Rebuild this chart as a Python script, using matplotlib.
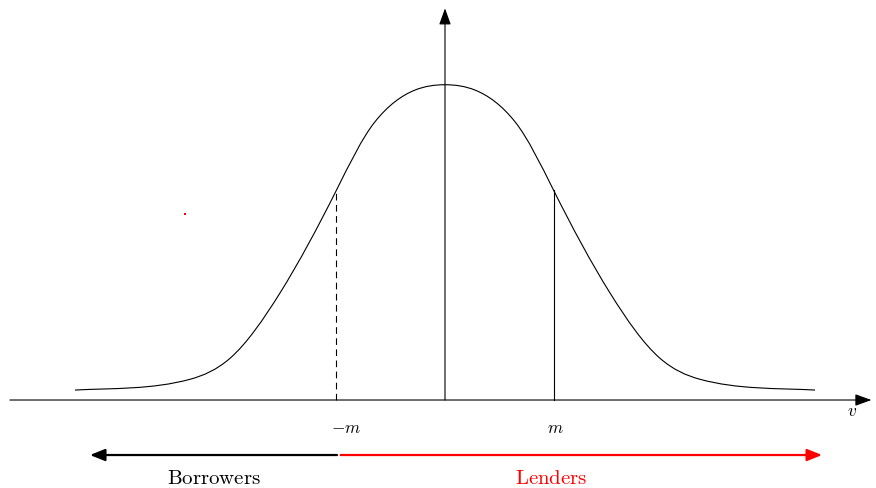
import numpy as np
import matplotlib
matplotlib.use("Agg")
import matplotlib.pyplot as plt
from matplotlib.path import Path
from matplotlib.patches import PathPatch

plt.rcParams['mathtext.fontset'] = 'cm'

# bell curve knots (x in units of m) with the slope of the curve at each knot
curve_x = [-3.41, -2.35, -1.982, -1.521, -1.0, -0.645, -0.276, 0.0,
           0.276, 0.645, 1.0, 1.521, 1.982, 2.35, 3.41]
curve_y = [0.092, 0.191, 0.384, 0.986, 1.935, 2.565, 2.857, 2.906,
           2.857, 2.565, 1.935, 0.986, 0.384, 0.191, 0.092]
curve_slope = [0.05, 0.27, 0.87, 1.6, 2.0, 1.25, 0.4, 0.0,
               -0.4, -1.25, -2.0, -1.6, -0.87, -0.27, -0.05]

m_pos = [-1.0, 1.0]
m_labels = ['$-m$', '$m$']
m_height = 1.935
groups = ['Borrowers', 'Lenders']
group_colors = ['black', 'red']

fig = plt.figure(figsize=(8.76, 4.88), dpi=100)
ax = fig.add_axes([0, 0, 1, 1])
ax.set_xlim(-4.101, 3.972)
ax.set_ylim(-0.811, 3.687)
ax.axis('off')

# hermite segments -> bezier path
verts = [(curve_x[0], curve_y[0])]
codes = [Path.MOVETO]
for i in range(len(curve_x) - 1):
    x0, y0, s0 = curve_x[i], curve_y[i], curve_slope[i]
    x1, y1, s1 = curve_x[i + 1], curve_y[i + 1], curve_slope[i + 1]
    h = (x1 - x0) / 3
    verts += [(x0 + h, y0 + h * s0), (x1 - h, y1 - h * s1), (x1, y1)]
    codes += [Path.CURVE4] * 3
ax.add_patch(PathPatch(Path(verts, codes), fill=False, lw=0.8, color='black'))

# axes with arrows
ax.annotate('', xy=(3.93, 0), xytext=(-4.01, 0),
            arrowprops=dict(arrowstyle='-|>,head_length=1.0,head_width=0.36',
                            lw=0.8, color='black', shrinkA=0, shrinkB=0))
ax.annotate('', xy=(0, 3.61), xytext=(0, 0),
            arrowprops=dict(arrowstyle='-|>,head_length=1.0,head_width=0.36',
                            lw=0.8, color='black', shrinkA=0, shrinkB=0))

# -m and m lines
ax.plot([m_pos[0], m_pos[0]], [0, m_height], color='black', lw=0.8, ls=(0, (6, 4)))
ax.plot([m_pos[1], m_pos[1]], [0, m_height], color='black', lw=0.8)

ax.text(-0.91, -0.258, m_labels[0], fontsize=12.5, ha='center', va='center')
ax.text(1.02, -0.258, m_labels[1], fontsize=12.5, ha='center', va='center')
ax.text(3.75, -0.10, '$v$', fontsize=12.5, ha='center', va='center')

# borrowers / lenders arrows
ax.annotate('', xy=(-3.272, -0.507), xytext=(-0.995, -0.507),
            arrowprops=dict(arrowstyle='-|>,head_length=0.9,head_width=0.36',
                            lw=1.6, color=group_colors[0], shrinkA=0, shrinkB=0))
ax.annotate('', xy=(3.475, -0.507), xytext=(-0.962, -0.507),
            arrowprops=dict(arrowstyle='-|>,head_length=0.9,head_width=0.36',
                            lw=1.6, color=group_colors[1], shrinkA=0, shrinkB=0))

ax.text(-2.13, -0.72, r'$\mathrm{' + groups[0] + '}$', fontsize=15,
        ha='center', va='center', color=group_colors[0])
ax.text(0.98, -0.72, r'$\mathrm{' + groups[1] + '}$', fontsize=15,
        ha='center', va='center', color=group_colors[1])

# stray red dot
ax.plot([-2.40], [1.71], marker='s', ms=2, color='red', mew=0)

fig.savefig('out.png', dpi=100)
